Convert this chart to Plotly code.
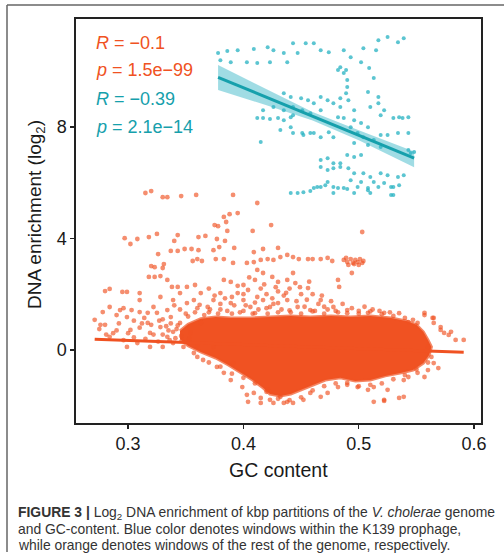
import plotly.graph_objects as go

# ---------------- data ----------------
x_ticks = [0.3, 0.4, 0.5, 0.6]
y_ticks = [0, 4, 8]

# K139 prophage windows (blue)
blue_gc = [
    0.378, 0.386, 0.395, 0.409, 0.421, 0.426, 0.435, 0.443, 0.447, 0.454, 0.461, 0.467, 0.474, 0.487, 0.493, 0.504, 0.517, 0.525, 0.534, 0.539, 0.515,
    0.380, 0.389, 0.403, 0.412, 0.423, 0.438, 0.502, 0.484, 0.489, 0.509, 0.482,
    0.487, 0.490, 0.490, 0.489, 0.484, 0.491, 0.513, 0.508, 0.517,
    0.435, 0.441, 0.450, 0.456, 0.467, 0.473, 0.478, 0.461,
    0.417, 0.426, 0.435, 0.443, 0.451, 0.458, 0.467, 0.484, 0.496, 0.517, 0.510, 0.522, 0.519, 0.530, 0.538,
    0.412, 0.417, 0.423, 0.430, 0.435, 0.441, 0.443, 0.482, 0.487, 0.496, 0.502, 0.508,
    0.432, 0.443, 0.452, 0.461, 0.467, 0.474, 0.478, 0.493, 0.499, 0.504, 0.513, 0.519, 0.525, 0.534, 0.543,
    0.415, 0.496, 0.508, 0.519, 0.543,
    0.467, 0.473, 0.478, 0.484, 0.490, 0.496, 0.502,
    0.467, 0.473, 0.478, 0.484, 0.491, 0.496, 0.504, 0.510, 0.519, 0.525, 0.534, 0.539,
    0.493, 0.502, 0.513, 0.522, 0.473, 0.467, 0.461, 0.478, 0.487, 0.499, 0.508, 0.517, 0.528, 0.535,
    0.441, 0.447, 0.452, 0.458, 0.478, 0.496, 0.510, 0.528,
    0.464, 0.471, 0.482, 0.490, 0.530, 0.530, 0.508,
    0.543, 0.535, 0.545, 0.548, 0.441, 0.451, 0.458,
]
blue_enrich = [
    10.65, 10.72, 10.75, 10.79, 10.86, 10.75, 10.65, 11.00, 10.65, 11.00, 11.00, 10.75, 10.68, 10.75, 10.50, 10.82, 11.11, 11.22, 11.04, 11.18, 10.75,
    10.39, 10.32, 10.32, 10.29, 10.32, 10.32, 10.32, 10.14, 10.04, 10.11, 10.04,
    9.93, 9.68, 9.43, 9.21, 9.03, 8.96, 9.75, 9.25, 9.07,
    9.21, 9.07, 9.03, 8.96, 9.07, 8.96, 8.85, 8.85,
    8.60, 8.71, 8.60, 8.71, 8.60, 8.49, 8.60, 8.71, 8.60, 8.85, 8.71, 8.60, 8.42, 8.32, 8.32,
    8.32, 8.32, 8.28, 8.32, 8.24, 8.35, 8.42, 8.35, 8.32, 8.24, 8.14, 7.99,
    7.89, 7.78, 7.71, 7.78, 7.63, 7.81, 7.63, 7.99, 7.78, 7.63, 7.53, 7.71, 7.71, 7.78, 7.78,
    7.46, 7.42, 7.35, 7.28, 7.17,
    6.81, 6.88, 6.70, 6.70, 6.99, 6.92, 6.99,
    6.56, 6.45, 6.52, 6.56, 6.52, 6.34, 6.34, 6.20, 6.34, 6.27, 6.20, 6.27,
    6.09, 6.02, 6.02, 5.99, 6.02, 5.84, 5.81, 5.84, 5.81, 5.84, 5.73, 5.84, 5.84, 5.91,
    5.63, 5.63, 5.66, 5.70, 5.63, 5.63, 5.63, 5.56,
    5.84, 5.91, 5.81, 5.77, 5.56, 5.84, 5.81,
    8.35, 8.35, 7.06, 7.10, 7.99, 7.78, 7.78,
]

# rest of genome (orange): outline of the solid dense core
core_gc = [0.345, 0.352, 0.363, 0.376, 0.389, 0.406, 0.423, 0.441, 0.458, 0.476,
           0.493, 0.510, 0.528, 0.541, 0.550, 0.556, 0.560, 0.563, 0.561, 0.556,
           0.547, 0.537, 0.523, 0.510, 0.497, 0.484, 0.471, 0.460, 0.450, 0.441,
           0.432, 0.423, 0.417, 0.408, 0.397, 0.387, 0.376, 0.363, 0.352, 0.345]
core_enrich = [0.68, 0.92, 1.12, 1.18, 1.15, 1.15, 1.18, 1.22, 1.18, 1.22,
               1.18, 1.22, 1.15, 1.04, 0.90, 0.65, 0.36, 0.11, -0.18, -0.47,
               -0.72, -0.82, -0.93, -1.08, -1.11, -1.00, -1.08, -1.25, -1.43, -1.58,
               -1.65, -1.58, -1.36, -1.08, -0.79, -0.54, -0.29, -0.07, 0.15, 0.38]

# orange scattered windows outside the core
orange_high_gc = [0.315, 0.320, 0.330, 0.334, 0.346, 0.359, 0.391, 0.412, 0.424, 0.408, 0.503,
                  0.297, 0.302, 0.308, 0.318, 0.325, 0.343, 0.340, 0.361, 0.367, 0.377, 0.384, 0.375, 0.378, 0.385, 0.388, 0.395, 0.383, 0.386,
                  0.337, 0.343, 0.349, 0.355, 0.361, 0.374, 0.379, 0.392, 0.409, 0.417, 0.430,
                  0.326, 0.320, 0.323, 0.330, 0.331, 0.356, 0.360, 0.364, 0.376, 0.383, 0.391, 0.403, 0.409, 0.415, 0.421, 0.426, 0.432, 0.438, 0.443, 0.448, 0.456, 0.460, 0.467, 0.473, 0.477,
                  0.487, 0.490, 0.493, 0.495, 0.497, 0.499, 0.501, 0.503, 0.504, 0.489, 0.496, 0.491, 0.500, 0.494]
orange_high_enrich = [5.63, 5.70, 5.48, 5.48, 5.52, 5.56, 5.56, 5.27, 4.48, 4.27, 4.23,
                      4.01, 3.80, 3.98, 4.05, 4.16, 4.12, 3.91, 4.05, 4.09, 3.98, 3.91, 4.48, 4.44, 4.59, 4.87, 4.91, 4.77, 4.27,
                      3.55, 3.55, 3.62, 3.62, 3.58, 3.58, 3.69, 3.66, 3.51, 3.62, 3.66,
                      3.44, 3.01, 2.97, 2.94, 3.08, 3.19, 3.26, 3.19, 3.26, 3.26, 3.12, 3.12, 3.15, 3.23, 3.26, 3.23, 3.33, 3.41, 3.33, 3.26, 3.26, 3.26, 3.26, 3.30, 3.19,
                      3.23, 3.15, 3.26, 3.12, 3.23, 3.15, 3.26, 3.12, 3.19, 3.30, 3.08, 3.05, 3.05, 2.76]

orange_mid_gc = [0.318, 0.323, 0.328, 0.334, 0.338, 0.343, 0.351, 0.358, 0.383, 0.389, 0.400, 0.410, 0.412, 0.417, 0.425, 0.430, 0.438, 0.443, 0.456, 0.482, 0.483,
                 0.280, 0.284, 0.295, 0.299, 0.310,
                 0.271, 0.276, 0.284, 0.290, 0.296, 0.303, 0.310, 0.317, 0.322, 0.328, 0.334, 0.339, 0.345, 0.351, 0.357, 0.363, 0.369, 0.374, 0.380, 0.389,
                 0.395, 0.400, 0.406, 0.412, 0.417, 0.423, 0.430, 0.438, 0.447, 0.458, 0.467, 0.478, 0.490, 0.508, 0.522, 0.557, 0.565, 0.571, 0.580, 0.591,
                 0.395, 0.405, 0.415, 0.420, 0.425, 0.430, 0.435, 0.440, 0.445, 0.450, 0.455, 0.460, 0.465, 0.470,
                 0.400, 0.410, 0.390, 0.380, 0.370, 0.360, 0.350, 0.340, 0.330, 0.320, 0.310, 0.300, 0.290, 0.280]
orange_mid_enrich = [2.62, 2.62, 2.65, 2.51, 2.26, 2.26, 2.26, 2.33, 2.51, 2.44, 2.33, 2.51, 2.87, 2.76, 2.62, 2.44, 2.51, 2.76, 2.22, 2.51, 2.26,
                     2.11, 2.19, 2.08, 2.08, 2.04,
                     1.08, 0.90, 1.54, 1.25, 1.50, 1.43, 1.79, 1.33, 1.54, 1.90, 1.43, 1.79, 2.04, 1.68, 1.79, 2.04, 1.54, 1.79, 2.04, 1.68,
                     2.04, 1.79, 1.54, 1.90, 1.79, 1.54, 1.68, 1.79, 1.54, 1.43, 1.79, 1.54, 1.43, 1.33, 1.33, 1.25, 1.15, 0.82, 0.65, 0.36,
                     2.30, 2.60, 2.20, 2.00, 1.85, 2.10, 1.95, 2.20, 2.40, 2.00, 1.80, 2.00, 1.65, 1.55,
                     2.00, 1.70, 1.90, 1.65, 2.20, 1.50, 1.30, 1.60, 1.10, 0.90, 0.80, 0.60, 0.70, 0.90]

orange_dense_gc = [0.345, 0.352, 0.358, 0.362, 0.366, 0.371, 0.375, 0.378, 0.384, 0.386,
                   0.392, 0.397, 0.402, 0.404, 0.408, 0.413, 0.418, 0.421, 0.426, 0.428,
                   0.433, 0.437, 0.441, 0.446, 0.449, 0.453, 0.457, 0.462, 0.468, 0.473,
                   0.476, 0.482, 0.486, 0.494, 0.500, 0.505, 0.512, 0.518, 0.527, 0.535,
                   0.330, 0.333, 0.336, 0.326, 0.322, 0.315, 0.312, 0.305, 0.296, 0.292,
                   0.287, 0.281, 0.275, 0.305, 0.314, 0.327, 0.342, 0.346, 0.353, 0.360,
                   0.339, 0.335, 0.341, 0.343, 0.337]
orange_dense_enrich = [1.45, 1.20, 1.35, 1.62, 1.25, 1.45, 1.95, 1.30, 1.85, 1.40,
                       1.60, 1.35, 1.60, 2.15, 1.30, 1.45, 2.35, 1.30, 1.65, 2.25,
                       1.45, 2.05, 1.35, 1.75, 2.25, 1.55, 2.45, 1.40, 1.95, 1.45,
                       1.75, 1.35, 1.65, 1.50, 1.40, 1.55, 1.45, 1.40, 1.35, 1.32,
                       0.55, 0.85, 0.35, 0.30, 0.55, 0.40, 0.95, 0.45, 0.35, 0.95,
                       0.60, 0.55, 0.75, 1.05, 1.15, 1.05, 0.75, 0.50, 0.40, 0.15,
                       0.65, 0.70, 0.42, 0.88, 0.95]

orange_edge_gc = [0.278, 0.293, 0.299, 0.302, 0.310, 0.317, 0.319, 0.325, 0.328, 0.334, 0.337, 0.339, 0.345, 0.348, 0.354, 0.357, 0.363, 0.365,
                  0.374, 0.377, 0.383, 0.389, 0.391, 0.399, 0.403, 0.409, 0.415, 0.421, 0.423, 0.284, 0.299, 0.308, 0.319, 0.330,
                  0.557, 0.564, 0.565, 0.571, 0.574, 0.578, 0.584, 0.560, 0.563, 0.565, 0.560, 0.569, 0.557, 0.551, 0.543, 0.539, 0.535, 0.539,
                  0.522, 0.525, 0.513, 0.508, 0.499, 0.490, 0.482, 0.473, 0.467, 0.458, 0.452, 0.443, 0.435, 0.432, 0.551, 0.547, 0.543,
                  0.404, 0.415, 0.426, 0.438, 0.513, 0.522,
                  0.37, 0.38, 0.39, 0.40, 0.41, 0.42, 0.43, 0.44, 0.45, 0.46, 0.47, 0.48, 0.49, 0.50, 0.51, 0.52, 0.53, 0.54,
                  0.36, 0.37, 0.38, 0.39, 0.40, 0.41, 0.42, 0.43, 0.44, 0.45, 0.46, 0.47, 0.48, 0.49, 0.50, 0.51, 0.52, 0.53, 0.54, 0.55, 0.56]
orange_edge_enrich = [1.36, 1.43, 1.18, 0.72, 1.36, 0.97, 0.61, 1.33, 0.82, 0.47, 1.18, 0.25, 0.97, 0.11, 0.61, -0.11, 0.97, -0.36,
                      0.11, -0.61, -0.82, -1.08, -0.47, -1.33, -1.61, -1.54, -1.72, -1.43, -1.79, 0.47, 0.11, 0.25, 0.11, 0.11,
                      1.33, 1.15, 0.97, 0.72, 0.61, 0.54, 0.36, 0.11, -0.25, -0.47, -0.72, -0.65, -0.97, -0.82, -0.97, -1.08, -1.72, -1.68,
                      -1.79, -1.43, -1.33, -1.43, -1.33, -1.18, -1.33, -1.54, -1.68, -1.54, -1.79, -1.90, -1.90, -1.68, 0.97, 1.08, 1.00,
                      -1.86, -1.90, -1.90, -1.86, -1.86, -1.83,
                      1.35, 1.45, 1.30, 1.40, 1.32, 1.50, 1.35, 1.42, 1.30, 1.38, 1.30, 1.40, 1.32, 1.30, 1.38, 1.28, 1.22, 1.15,
                      -0.25, -0.45, -0.60, -0.85, -1.00, -1.20, -1.50, -1.75, -1.80, -1.70, -1.45, -1.30, -1.20, -1.25, -1.30, -1.25, -1.20, -1.05, -0.90, -0.70, -0.45]

# linear fits
orange_fit_gc = [0.271, 0.591]
orange_fit_enrich = [0.38, -0.08]
blue_fit_gc = [0.378, 0.420, 0.460, 0.500, 0.548]
blue_fit_enrich = [9.78, 9.06, 8.38, 7.70, 6.88]
blue_ci_upper = [10.22, 9.34, 8.53, 7.88, 7.12]
blue_ci_lower = [9.32, 8.78, 8.23, 7.52, 6.55]

stat_labels = ["<i>R</i> = \u22120.1", "<i>p</i> = 1.5e\u221299",
               "<i>R</i> = \u22120.39", "<i>p</i> = 2.1e\u221214"]

# ---------------- styling ----------------
ORANGE = "rgb(240,82,34)"
ORANGE_PT = "rgba(240,82,34,0.65)"
BLUE_PT = "rgba(38,178,194,0.75)"
BLUE_LINE = "rgb(22,160,172)"
BLUE_BAND = "rgba(45,178,195,0.45)"
FONT = "Liberation Sans, Arial, Helvetica, sans-serif"

fig = go.Figure()

fig.add_trace(go.Scatter(x=core_gc, y=core_enrich, mode="lines", fill="toself",
                         fillcolor=ORANGE, line=dict(color="rgba(240,82,34,0.7)", width=3),
                         hoverinfo="skip", showlegend=False))

orange_gc = orange_high_gc + orange_mid_gc + orange_dense_gc + orange_edge_gc
orange_enrich = orange_high_enrich + orange_mid_enrich + orange_dense_enrich + orange_edge_enrich
fig.add_trace(go.Scatter(x=orange_gc, y=orange_enrich, mode="markers",
                         marker=dict(size=4.8, color=ORANGE_PT, line=dict(width=0)),
                         showlegend=False))

fig.add_trace(go.Scatter(x=blue_gc, y=blue_enrich, mode="markers",
                         marker=dict(size=4, color=BLUE_PT, line=dict(width=0)),
                         showlegend=False))

fig.add_trace(go.Scatter(x=orange_fit_gc, y=orange_fit_enrich, mode="lines",
                         line=dict(color=ORANGE, width=3), showlegend=False))

fig.add_trace(go.Scatter(x=blue_fit_gc + blue_fit_gc[::-1],
                         y=blue_ci_upper + blue_ci_lower[::-1],
                         mode="lines", fill="toself", fillcolor=BLUE_BAND,
                         line=dict(width=0), hoverinfo="skip", showlegend=False))
fig.add_trace(go.Scatter(x=blue_fit_gc, y=blue_fit_enrich, mode="lines",
                         line=dict(color=BLUE_LINE, width=3), showlegend=False))

W, H = 504, 558
L, R, T, B = 76, 23, 19, 135
pw, ph = W - L - R, H - T - B


def px(xp):
    return (xp - L) / pw


def py(yp):
    return 1 - (yp - T) / ph


axis_common = dict(showline=True, mirror=True, linecolor="#222", linewidth=1.6,
                   ticks="outside", ticklen=4, tickwidth=1.4, tickcolor="#222",
                   showgrid=False, zeroline=False,
                   tickfont=dict(family=FONT, size=18, color="#1a1a1a"))

fig.update_layout(
    width=W, height=H,
    margin=dict(l=L, r=R, t=T, b=B),
    paper_bgcolor="white", plot_bgcolor="white",
    xaxis=dict(range=[0.2548, 0.606], tickvals=x_ticks,
               ticktext=[f"{v:.1f}" for v in x_ticks], **axis_common),
    yaxis=dict(range=[-2.62, 11.87], tickvals=y_ticks,
               ticktext=[str(v) for v in y_ticks], **axis_common),
    showlegend=False,
)

annotations = []
stat_colors = [ORANGE, ORANGE, BLUE_LINE, BLUE_LINE]
stat_y = [43, 70, 99, 127]
for txt, col, yy in zip(stat_labels, stat_colors, stat_y):
    annotations.append(dict(text=txt, x=px(94), y=py(yy), xref="paper", yref="paper",
                            xanchor="left", yanchor="middle", showarrow=False,
                            font=dict(family=FONT, size=18, color=col)))

annotations.append(dict(text="GC content", x=px(278), y=py(470), xref="paper", yref="paper",
                        xanchor="center", yanchor="middle", showarrow=False,
                        font=dict(family=FONT, size=19.5, color="#1a1a1a")))
annotations.append(dict(text="DNA enrichment (log<sub>2</sub>)", x=px(36), y=py(215),
                        xref="paper", yref="paper", textangle=-90,
                        xanchor="center", yanchor="middle", showarrow=False,
                        font=dict(family=FONT, size=19, color="#1a1a1a")))

caption = [
    "<b>FIGURE 3 |</b> Log<sub>2</sub> DNA enrichment of kbp partitions of the <i>V. cholerae</i> genome",
    "and GC-content. Blue color denotes windows within the K139 prophage,",
    "while orange denotes windows of the rest of the genome, respectively.",
]
for line, yy in zip(caption, [513, 529, 545]):
    annotations.append(dict(text=line, x=px(16), y=py(yy), xref="paper", yref="paper",
                            xanchor="left", yanchor="middle", showarrow=False,
                            font=dict(family=FONT, size=13.9, color="#333")))
fig.update_layout(annotations=annotations)

fig.add_shape(type="line", xref="paper", yref="paper", x0=px(7), x1=px(504),
              y0=py(5), y1=py(5), line=dict(color="#666", width=1.5))
fig.add_shape(type="line", xref="paper", yref="paper", x0=px(7), x1=px(7),
              y0=py(5), y1=py(552), line=dict(color="#666", width=1.5))

fig.write_html("out.html",
               config={"displayModeBar": False, "staticPlot": True},
               post_script="document.body.style.margin='0';document.body.style.overflow='hidden';")
